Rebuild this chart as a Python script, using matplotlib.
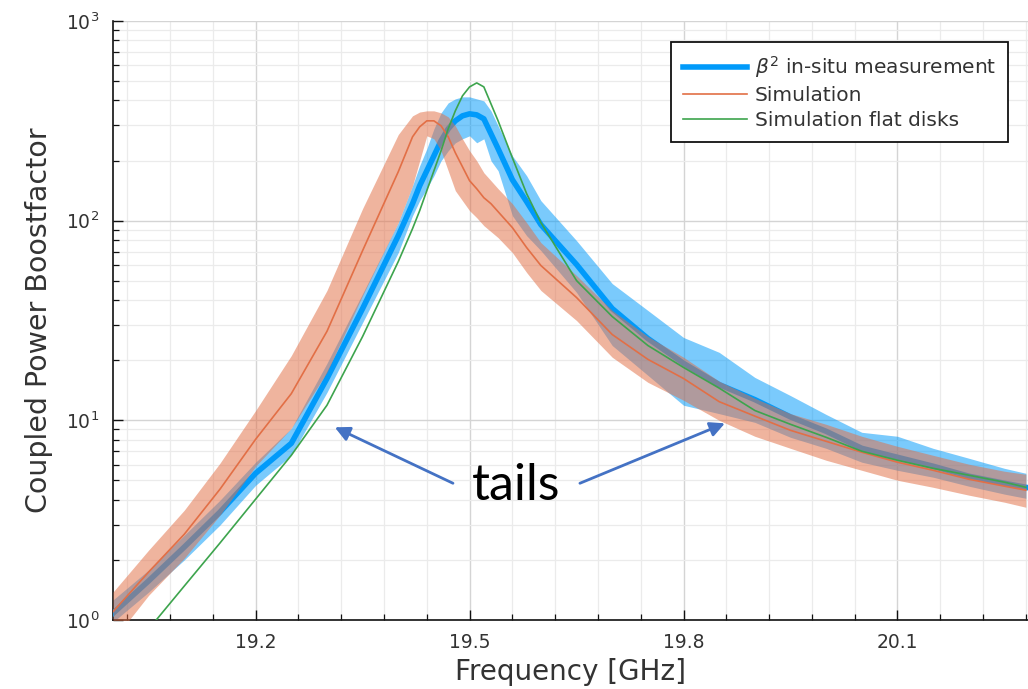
import matplotlib
matplotlib.use("Agg")
import matplotlib.pyplot as plt
from matplotlib.ticker import MultipleLocator, LogLocator, NullFormatter

# ---------------- data ----------------
freq = [19.00, 19.05, 19.10, 19.15, 19.20, 19.25, 19.30, 19.35, 19.40, 19.42,
        19.43, 19.44, 19.45, 19.46, 19.47, 19.48, 19.49, 19.50, 19.51, 19.52,
        19.53, 19.54, 19.56, 19.58, 19.60, 19.65, 19.70, 19.75, 19.80, 19.85,
        19.90, 19.95, 20.00, 20.05, 20.10, 20.15, 20.20, 20.25, 20.28]

meas = [1.08, 1.57, 2.32, 3.47, 5.43, 7.67, 16.2, 36.3, 84.1, 121.6,
        149.6, 177.8, 211.3, 251.2, 288.4, 316.2, 335.0, 342.8, 338.8, 323.6,
        272.3, 229.1, 160.3, 124.5, 95.5, 60.3, 36.3, 25.7, 19.3, 15.1,
        12.7, 10.4, 8.81, 7.24, 6.53, 5.89, 5.25, 4.84, 4.62]
meas_hi = [1.26, 1.78, 2.66, 3.98, 6.17, 9.12, 19.3, 43.2, 97.7, 149.6,
           188.4, 229.1, 288.4, 346.7, 389.0, 407.4, 416.9, 416.9, 407.4, 398.1,
           354.8, 298.5, 211.3, 167.9, 125.9, 79.4, 48.4, 35.5, 26.0, 21.9,
           16.4, 13.3, 10.7, 8.71, 8.32, 7.24, 6.46, 5.75, 5.43]
meas_lo = [0.977, 1.38, 2.00, 2.99, 4.73, 6.68, 13.8, 30.9, 69.2, 105.9,
           125.9, 144.5, 167.9, 199.5, 223.9, 245.5, 257.0, 266.1, 245.5, 257.0,
           199.5, 177.8, 105.9, 84.1, 70.8, 43.7, 23.7, 16.8, 11.9, 10.8,
           9.77, 8.22, 7.24, 6.17, 5.62, 5.19, 4.68, 4.27, 4.07]

sim = [1.10, 1.74, 2.69, 4.52, 8.04, 13.6, 27.9, 70.8, 175.8, 263.0,
       295.1, 316.2, 316.2, 298.5, 263.0, 218.8, 186.2, 158.5, 144.5, 130.3,
       121.6, 110.9, 92.3, 73.3, 59.6, 41.2, 26.9, 20.2, 16.2, 12.4,
       10.5, 8.91, 7.85, 6.92, 6.17, 5.62, 5.07, 4.68, 4.47]
sim_hi = [1.38, 2.24, 3.55, 6.10, 11.2, 21.1, 44.7, 115.0, 270.0, 335.0,
          350.0, 354.8, 354.8, 346.7, 331.1, 298.5, 257.0, 223.9, 199.5, 173.8,
          158.5, 144.5, 121.6, 97.7, 77.6, 53.1, 35.5, 26.3, 20.7, 15.7,
          12.9, 10.8, 9.55, 8.32, 7.41, 6.68, 6.03, 5.56, 5.37]
sim_lo = [0.79, 1.33, 2.04, 3.35, 5.89, 9.12, 17.4, 42.2, 97.7, 149.6,
          199.5, 266.1, 257.0, 223.9, 177.8, 141.3, 125.9, 112.2, 103.5, 94.4,
          88.1, 82.2, 69.2, 55.0, 44.7, 31.6, 20.7, 15.5, 12.6, 10.0,
          8.32, 7.24, 6.31, 5.62, 5.01, 4.62, 4.22, 3.89, 3.67]

flat = [0.55, 0.90, 1.48, 2.43, 4.03, 6.68, 11.9, 26.3, 62.4, 91.2,
        112.2, 141.3, 177.8, 223.9, 288.4, 354.8, 421.7, 467.7, 489.8, 467.7,
        384.6, 316.2, 206.5, 136.5, 97.7, 50.1, 33.1, 23.7, 18.4, 14.5,
        11.2, 9.55, 8.22, 7.00, 6.31, 5.75, 5.31, 4.90, 4.62]

labels = [r"$\beta^2$ in-situ measurement", "Simulation", "Simulation flat disks"]
xticks = [19.2, 19.5, 19.8, 20.1]

BLUE = "#009AFA"
ORANGE = "#E26F46"
GREEN = "#3DA44D"
ARROW = "#4472C4"

# ---------------- figure ----------------
fig = plt.figure(figsize=(10.28, 6.89), dpi=100)
ax = fig.add_axes([113 / 1028, 1 - 620 / 689, (1028 - 113) / 1028, (620 - 21) / 689])

ax.fill_between(freq, meas_lo, meas_hi, color=BLUE, alpha=0.52, lw=0, zorder=2)
ax.plot(freq, meas, color=BLUE, lw=4, label=labels[0], zorder=3)
ax.fill_between(freq, sim_lo, sim_hi, color=ORANGE, alpha=0.52, lw=0, zorder=4)
ax.plot(freq, sim, color=ORANGE, lw=1.2, label=labels[1], zorder=5)
ax.plot(freq, flat, color=GREEN, lw=1.2, label=labels[2], zorder=6)

ax.set_yscale("log")
ax.set_ylim(1, 1000)
ax.set_xlim(19.0, 20.283)

ax.xaxis.set_major_locator(plt.FixedLocator(xticks))
ax.xaxis.set_minor_locator(MultipleLocator(0.06))
ax.yaxis.set_major_locator(LogLocator(base=10, numticks=10))
ax.yaxis.set_minor_locator(LogLocator(base=10, subs=range(2, 10), numticks=20))
ax.yaxis.set_minor_formatter(NullFormatter())

ax.grid(which="major", color="#d4d4d4", lw=1.0, zorder=0)
ax.grid(which="minor", color="#ebebeb", lw=0.9, zorder=0)
ax.set_axisbelow(True)

for s in ("top", "right"):
    ax.spines[s].set_visible(False)
for s in ("left", "bottom"):
    ax.spines[s].set_linewidth(1.2)
    ax.spines[s].set_color("#111111")

ax.tick_params(which="major", direction="in", length=7, width=1.0, colors="#111111",
               labelcolor="#333333", labelsize=13.5)
ax.tick_params(which="minor", direction="in", length=4, width=0.9, colors="#111111")
ax.tick_params(axis="x", pad=9)
ax.tick_params(axis="y", pad=10)

ax.set_xlabel("Frequency [GHz]", fontsize=20, color="#333333", labelpad=5)
ax.set_ylabel("Coupled Power Boostfactor", fontsize=20.5, color="#333333", labelpad=9)

leg = ax.legend(loc="upper right", bbox_to_anchor=(0.978, 0.965), borderaxespad=0,
                fontsize=14.5, handlelength=3.2, handletextpad=0.35, labelspacing=0.3,
                borderpad=0.6, fancybox=False, framealpha=1, edgecolor="#111111")
leg.get_frame().set_linewidth(1.3)
for t in leg.get_texts():
    t.set_color("#333333")

# annotation
ax.text(19.565, 3.98, "tails", fontsize=36, family="Lato", ha="center", va="baseline",
        color="black", zorder=10)
ax.annotate("", xy=(19.311, 9.23), xytext=(19.4767, 4.84),
            arrowprops=dict(arrowstyle="-|>", color=ARROW, lw=2, mutation_scale=22,
                            shrinkA=0, shrinkB=0), zorder=10)
ax.annotate("", xy=(19.858, 9.66), xytext=(19.6547, 4.84),
            arrowprops=dict(arrowstyle="-|>", color=ARROW, lw=2, mutation_scale=22,
                            shrinkA=0, shrinkB=0), zorder=10)

fig.savefig("out.png", dpi=100)
